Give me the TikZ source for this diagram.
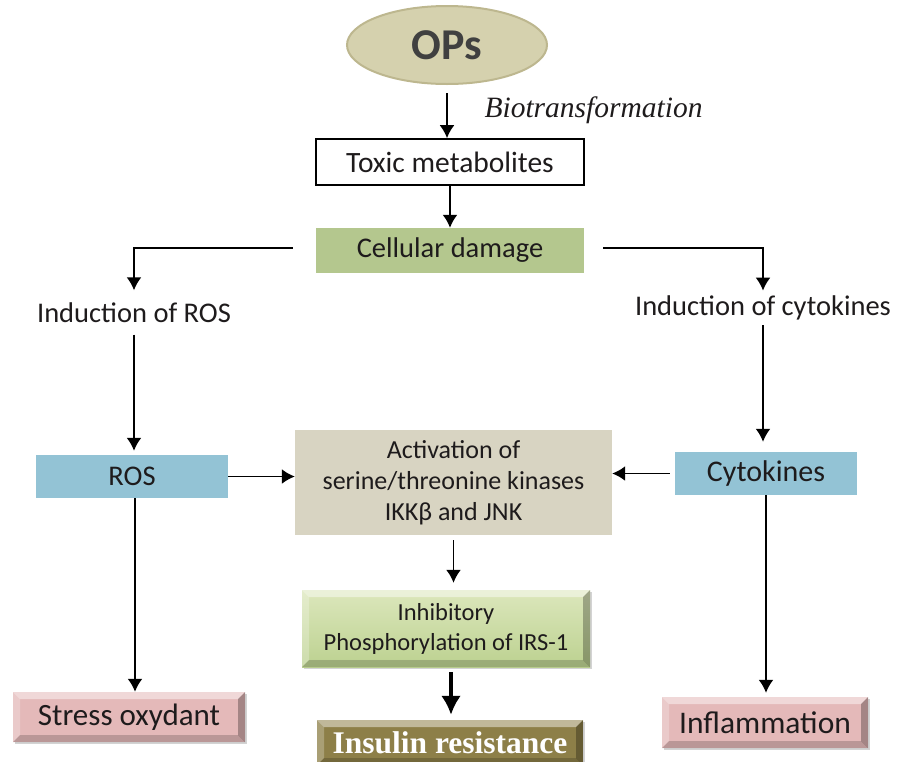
\documentclass[tikz,border=0pt]{standalone}
\usepackage{fontspec}
\setmainfont{Carlito}
\newfontfamily\bioserif{Liberation Serif}
\usetikzlibrary{positioning,shapes.geometric,arrows.meta,shadows}

\definecolor{txt}{HTML}{1E1B1C}
\definecolor{opsfill}{HTML}{D5D1AE}
\definecolor{opsline}{HTML}{BDB78F}
\definecolor{dmgfill}{HTML}{B4C78E}
\definecolor{rosfill}{HTML}{93C3D5}
\definecolor{actfill}{HTML}{D8D4C2}
\definecolor{inhtop}{HTML}{DCE7BC}
\definecolor{inhbot}{HTML}{BCD190}
\definecolor{pinkfill}{HTML}{E4B9B9}
\definecolor{insfill}{HTML}{8D7F48}

\begin{document}
\begin{tikzpicture}[x=1pt,y=-1pt,
  every node/.style={text=txt,font=\fontsize{28.5}{33}\selectfont},
  box/.style={rectangle,inner sep=0pt,align=center},
  arr/.style={-{Latex[length=13pt,width=15pt]},line width=1.9pt},
  shade box/.style={drop shadow={shadow xshift=2pt,shadow yshift=-2pt,opacity=.35}},
  bevel/.style={path picture={
    \fill[white,opacity=.45] (path picture bounding box.north west) -- (path picture bounding box.north east)
      -- ([xshift=-7pt,yshift=-7pt]path picture bounding box.north east) -- ([xshift=7pt,yshift=-7pt]path picture bounding box.north west) -- cycle;
    \fill[white,opacity=.25] (path picture bounding box.north west) -- (path picture bounding box.south west)
      -- ([xshift=7pt,yshift=7pt]path picture bounding box.south west) -- ([xshift=7pt,yshift=-7pt]path picture bounding box.north west) -- cycle;
    \fill[black,opacity=.18] (path picture bounding box.south west) -- (path picture bounding box.south east)
      -- ([xshift=-7pt,yshift=7pt]path picture bounding box.south east) -- ([xshift=7pt,yshift=7pt]path picture bounding box.south west) -- cycle;
    \fill[black,opacity=.28] (path picture bounding box.north east) -- (path picture bounding box.south east)
      -- ([xshift=-7pt,yshift=7pt]path picture bounding box.south east) -- ([xshift=-7pt,yshift=-7pt]path picture bounding box.north east) -- cycle;
  }}]
\clip (0,0) rectangle (901,761);

% top of the chain
\node[ellipse,fill=opsfill,draw=opsline,line width=2pt,minimum width=200pt,minimum height=78pt,
  font=\fontsize{44}{48}\selectfont\bfseries,text=black!75] (ops) at (447,45) {OPs};
\node[box,draw,line width=1.7pt,minimum width=268pt,minimum height=46pt,font=\fontsize{29.5}{33}\selectfont] (toxic) at (450,162) {Toxic metabolites};
\node[box,fill=dmgfill,minimum width=268pt,minimum height=45pt] (damage) at (450,250.5) {Cellular damage};
\node[anchor=west,font=\bioserif\itshape\fontsize{29.5}{33}\selectfont] (bio) at (481,110) {Biotransformation};

% two branches
\node[inner xsep=2pt,inner ysep=12pt] (indros) at (134,312.5) {Induction of ROS};
\node[inner xsep=2pt,inner ysep=5pt] (indcyt) at (763,308) {Induction of cytokines};
\node[box,fill=rosfill,minimum width=192pt,minimum height=43pt] (ros) at (132,476.5) {ROS};
\node[box,fill=rosfill,minimum width=182pt,minimum height=43pt,font=\fontsize{30}{34}\selectfont] (cyt) at (766,473.5) {Cytokines};
\node[box,fill=actfill,minimum width=317pt,minimum height=105pt,font=\fontsize{26}{31}\selectfont] (activ) at (453.5,482.5)
  {Activation of\\serine/threonine kinases\\IKKβ and JNK};

% outcomes
\node[box,shade box,top color=inhtop,bottom color=inhbot,bevel,minimum width=288pt,minimum height=77pt,
  font=\fontsize{24.5}{30}\selectfont] (inhib) at (446,628.5) {Inhibitory\\Phosphorylation of IRS-1};
\node[box,shade box,fill=pinkfill,bevel,minimum width=232pt,minimum height=50pt,font=\fontsize{31}{35}\selectfont]
  (stress) at (129,717) {Stress oxydant};
\node[box,shade box,fill=pinkfill,bevel,minimum width=206pt,minimum height=51pt,font=\fontsize{31.5}{35}\selectfont]
  (inflam) at (765,722.5) {Inflammation};
\node[box,shade box,fill=insfill,bevel,minimum width=266pt,minimum height=45pt,text=white,
  font=\bioserif\bfseries\fontsize{31.5}{36}\selectfont] (insulin) at (450,742.5) {Insulin resistance};

% connectors
\draw[arr,shorten <=8pt] (ops.south) -- (ops.south |- toxic.north);
\draw[arr] (toxic.south) -- (damage.north);
\draw[arr] ([xshift=-23pt,yshift=2.5pt]damage.west) -| (indros.north);
\draw[arr] ([xshift=19pt,yshift=2.5pt]damage.east) -| (indcyt.north);
\draw[arr,shorten >=4pt] (indros.south) -- (indros.south |- ros.north);
\draw[arr,shorten >=10pt] (indcyt.south) -- (indcyt.south |- cyt.north);
\draw[arr] (ros.east) -- (ros.east -| activ.west);
\draw[arr,shorten <=5pt] (cyt.west) -- (cyt.west -| activ.east);
\draw[arr] ([xshift=3pt]ros.south) -- ([xshift=3pt]ros.south |- stress.north);
\draw[arr,shorten >=4pt] (cyt.south) -- (cyt.south |- inflam.north);
\draw[arr,shorten <=5pt,shorten >=7pt] (activ.south) -- (activ.south |- inhib.north);
\draw[-{Latex[length=19pt,width=20pt]},line width=4pt,shorten <=5pt,shorten >=5pt] ([xshift=5pt]inhib.south) -- ([xshift=5pt]inhib.south |- insulin.north);
\end{tikzpicture}
\end{document}
